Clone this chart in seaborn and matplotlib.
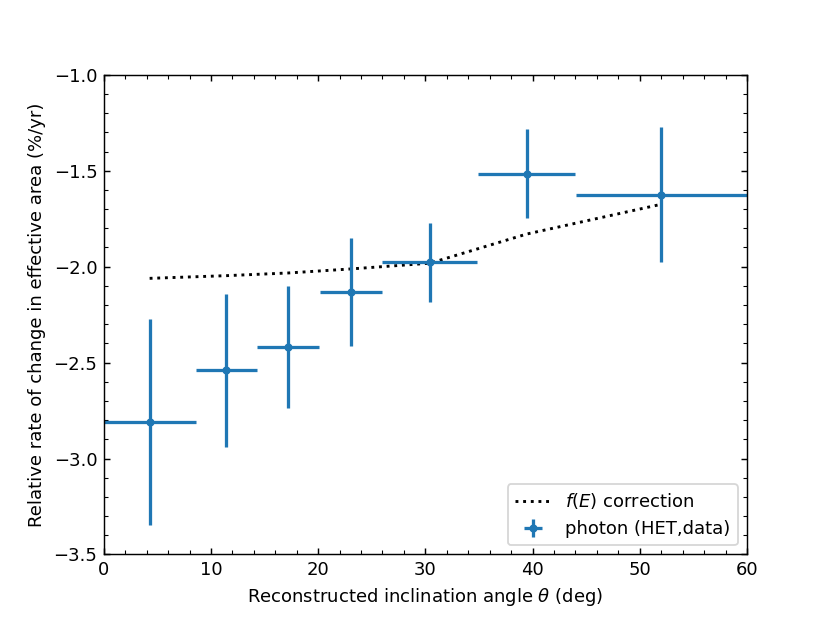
import numpy as np
import pandas as pd
import matplotlib
matplotlib.use('Agg')
import matplotlib.pyplot as plt
import seaborn as sb

# photon (HET, data) points
theta = [4.28, 11.44, 17.21, 23.04, 30.43, 39.46, 52.0]
theta_err_lo = [4.28, 2.86, 2.87, 2.89, 4.43, 4.54, 7.97]
theta_err_hi = [4.28, 2.86, 2.87, 2.89, 4.43, 4.54, 8.0]
rate = [-2.81, -2.541, -2.419, -2.132, -1.978, -1.515, -1.625]
rate_err = [0.537, 0.40, 0.318, 0.281, 0.207, 0.231, 0.353]

# f(E) correction curve
corr_theta = [4.28, 11.44, 17.21, 23.04, 30.43, 39.46, 52.0]
corr_rate = [-2.061, -2.047, -2.033, -2.012, -1.982, -1.83, -1.675]


def main():
    sb.set_style('ticks')
    plt.rcParams.update({
        'xtick.direction': 'in', 'ytick.direction': 'in',
        'xtick.top': True, 'ytick.right': True,
        'xtick.minor.visible': True, 'ytick.minor.visible': True,
        'font.family': ['DejaVu Sans'],
        'text.color': 'black', 'axes.labelcolor': 'black',
        'axes.edgecolor': 'black', 'xtick.color': 'black',
        'ytick.color': 'black', 'axes.linewidth': 0.8,
        'xtick.major.width': 0.8, 'ytick.major.width': 0.8,
        'xtick.minor.width': 0.6, 'ytick.minor.width': 0.6,
    })
    fig, ax = plt.subplots(figsize=(830 / 130, 623 / 130), dpi=130)

    corr = pd.DataFrame({'theta': corr_theta, 'rate': corr_rate})
    sb.lineplot(data=corr, x='theta', y='rate', ax=ax, color='k',
                linestyle=':', linewidth=1.6, label='$f(E)$ correction')

    ax.errorbar(theta, rate, xerr=[theta_err_lo, theta_err_hi], yerr=rate_err,
                fmt='o', color='#1f77b4', markersize=3.5, elinewidth=1.8,
                label='photon (HET,data)')

    ax.set_xlim(0, 60)
    ax.set_ylim(-3.5, -1.0)
    ax.set_xticks(np.arange(0, 61, 10))
    ax.set_yticks(np.arange(-3.5, -0.99, 0.5))
    ax.xaxis.set_minor_locator(plt.MultipleLocator(2))
    ax.yaxis.set_minor_locator(plt.MultipleLocator(0.1))
    ax.set_xlabel(r'Reconstructed inclination angle $\theta$ (deg)')
    ax.set_ylabel('Relative rate of change in effective area (%/yr)')
    ax.legend(loc='lower right')

    fig.savefig('out.png', dpi=130)


if __name__ == '__main__':
    main()
